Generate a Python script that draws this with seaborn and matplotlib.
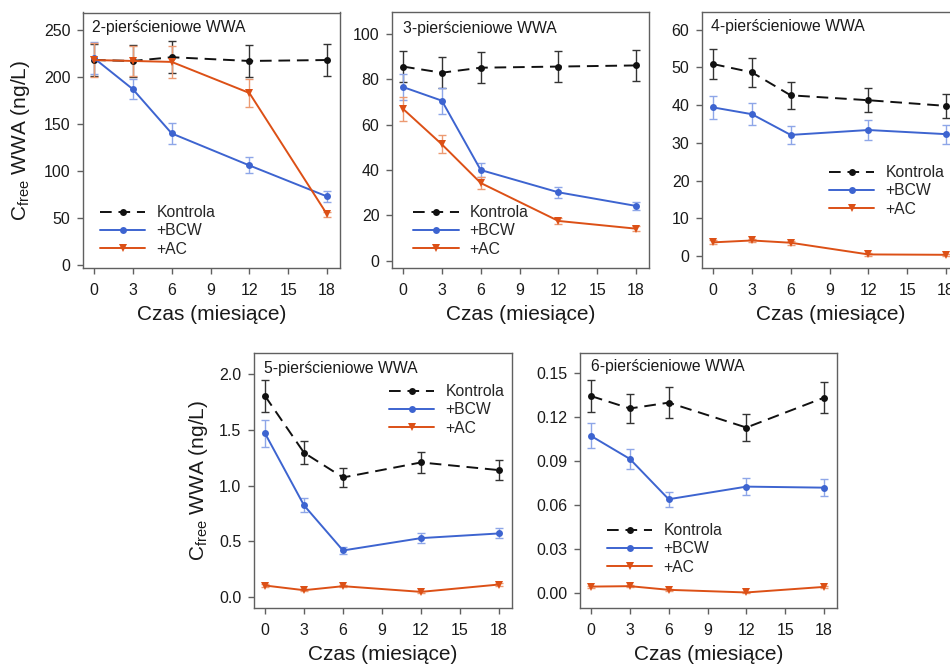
import numpy as np
import pandas as pd
import matplotlib
matplotlib.use("Agg")
import matplotlib.pyplot as plt
import seaborn as sns

# ---------------- data ----------------
months = [0, 3, 6, 12, 18]
series_names = ["Kontrola", "+BCW", "+AC"]
panel_titles = ["2-pierścieniowe WWA", "3-pierścieniowe WWA", "4-pierścieniowe WWA",
                "5-pierścieniowe WWA", "6-pierścieniowe WWA"]

ctrl_2 = [218, 217, 221, 217, 218]
ctrl_2_err = [17, 17, 17, 17, 17]
bcw_2 = [220, 187, 140, 106, 73]
bcw_2_err = [17, 10.5, 11, 8.5, 5.5]
ac_2 = [218, 217, 216, 183, 54]
ac_2_err = [18, 16, 17, 15, 3]

ctrl_3 = [85.5, 82.8, 85.0, 85.5, 86.0]
ctrl_3_err = [6.7, 6.7, 6.7, 6.7, 7.0]
bcw_3 = [76.5, 70.5, 40.0, 30.2, 24.2]
bcw_3_err = [5.7, 5.7, 3.0, 2.3, 1.8]
ac_3 = [66.9, 51.3, 34.3, 17.6, 14.2]
ac_3_err = [5.4, 4.0, 2.5, 1.2, 1.1]

ctrl_4 = [50.9, 48.7, 42.6, 41.3, 39.8]
ctrl_4_err = [4.1, 3.9, 3.5, 3.2, 3.1]
bcw_4 = [39.4, 37.6, 32.1, 33.4, 32.3]
bcw_4_err = [3.1, 2.9, 2.4, 2.7, 2.5]
ac_4 = [3.6, 4.1, 3.5, 0.4, 0.3]
ac_4_err = [0.5, 0.5, 0.5, 0.3, 0.3]

ctrl_5 = [1.805, 1.295, 1.073, 1.208, 1.139]
ctrl_5_err = [0.14, 0.105, 0.083, 0.096, 0.093]
bcw_5 = [1.469, 0.822, 0.417, 0.528, 0.570]
bcw_5_err = [0.123, 0.063, 0.033, 0.043, 0.045]
ac_5 = [0.102, 0.060, 0.096, 0.045, 0.111]
ac_5_err = [0.01, 0.01, 0.01, 0.01, 0.01]

ctrl_6 = [0.1345, 0.126, 0.130, 0.113, 0.1334]
ctrl_6_err = [0.0106, 0.010, 0.0105, 0.009, 0.0107]
bcw_6 = [0.1073, 0.0916, 0.0641, 0.0727, 0.0720]
bcw_6_err = [0.0085, 0.007, 0.005, 0.006, 0.006]
ac_6 = [0.0045, 0.0048, 0.0023, 0.0005, 0.0043]
ac_6_err = [0.0007, 0.0007, 0.0005, 0.0004, 0.0006]

yticks_list = [
    [0, 50, 100, 150, 200, 250],
    [0, 20, 40, 60, 80, 100],
    [0, 10, 20, 30, 40, 50, 60],
    [0.0, 0.5, 1.0, 1.5, 2.0],
    [0.00, 0.03, 0.06, 0.09, 0.12, 0.15],
]
ytick_fmt = ["{:.0f}", "{:.0f}", "{:.0f}", "{:.1f}", "{:.2f}"]
xticks = [0, 3, 6, 9, 12, 15, 18]

panels = [
    (ctrl_2, ctrl_2_err, bcw_2, bcw_2_err, ac_2, ac_2_err),
    (ctrl_3, ctrl_3_err, bcw_3, bcw_3_err, ac_3, ac_3_err),
    (ctrl_4, ctrl_4_err, bcw_4, bcw_4_err, ac_4, ac_4_err),
    (ctrl_5, ctrl_5_err, bcw_5, bcw_5_err, ac_5, ac_5_err),
    (ctrl_6, ctrl_6_err, bcw_6, bcw_6_err, ac_6, ac_6_err),
]

# ---------------- style ----------------
sns.set_theme(style="ticks")
plt.rcParams["font.family"] = ["Liberation Sans", "DejaVu Sans"]
plt.rcParams["mathtext.fontset"] = "custom"
plt.rcParams["mathtext.rm"] = "Liberation Sans"
plt.rcParams["mathtext.it"] = "Liberation Sans:italic"

W, H = 950, 668
fig = plt.figure(figsize=(W / 100, H / 100), dpi=100)

# axes boxes in pixels: (left, top, right, bottom)
boxes = [(83, 12.5, 340, 268), (392, 12, 649, 268), (702, 12, 959, 268),
         (254, 352.5, 512, 608), (580, 352.5, 837, 608)]
ylims = [(-3, 268.5), (-3.1, 109.5), (-3.2, 64.7), (-0.10, 2.196), (-0.0101, 0.1642)]
title_pos = [(0.035, 0.943), (0.042, 0.936), (0.035, 0.945), (0.040, 0.939), (0.042, 0.944)]
legend_pos = [(0.066, 0.145), (0.082, 0.145), (0.494, 0.301), (0.523, 0.775), (0.105, 0.231)]
ylabel_x = {0: -0.198, 3: -0.17}

c_black = "#111111"
c_blue = "#3d64d0"
c_orange = "#dc5016"
e_black = "#333333"
e_blue = "#8ea6e8"
e_orange = "#ec9a72"
spine_c = "#606060"

for i, (ctrl, ctrl_e, bcw, bcw_e, ac, ac_e) in enumerate(panels):
    l, t, r, b = boxes[i]
    ax = fig.add_axes([l / W, 1 - b / H, (r - l) / W, (b - t) / H])

    df = pd.DataFrame({
        "month": months * 3,
        "value": ctrl + bcw + ac,
        "series": [series_names[0]] * 5 + [series_names[1]] * 5 + [series_names[2]] * 5,
    })

    # error bars first (behind lines)
    ax.errorbar(months, ctrl, yerr=ctrl_e, fmt="none", ecolor=e_black, elinewidth=1.0,
                capsize=2.7, capthick=1.0, zorder=1)
    ax.errorbar(months, bcw, yerr=bcw_e, fmt="none", ecolor=e_blue, elinewidth=1.0,
                capsize=2.7, capthick=1.0, zorder=1)
    ax.errorbar(months, ac, yerr=ac_e, fmt="none", ecolor=e_orange, elinewidth=1.0,
                capsize=2.7, capthick=1.0, zorder=1)

    sns.lineplot(data=df[df.series == "Kontrola"], x="month", y="value", ax=ax,
                 color=c_black, lw=1.4, marker="o", markersize=5, markeredgewidth=0,
                 dashes=False, label="Kontrola", zorder=3)
    ax.lines[-1].set_dashes((6, 3.5))
    sns.lineplot(data=df[df.series == "+BCW"], x="month", y="value", ax=ax,
                 color=c_blue, lw=1.4, marker="o", markersize=5, markeredgewidth=0,
                 label="+BCW", zorder=3)
    sns.lineplot(data=df[df.series == "+AC"], x="month", y="value", ax=ax,
                 color=c_orange, lw=1.4, marker="v", markersize=5.5, markeredgewidth=0,
                 label="+AC", zorder=3)

    ax.set_xlim(-0.85, 19.0)
    ax.set_ylim(*ylims[i])
    ax.set_xticks(xticks)
    ax.set_xticklabels([str(v) for v in xticks])
    ax.set_yticks(yticks_list[i])
    ax.set_yticklabels([ytick_fmt[i].format(v) for v in yticks_list[i]])

    for s in ax.spines.values():
        s.set_color(spine_c)
        s.set_linewidth(1.0)
    ax.tick_params(axis="x", direction="out", length=4, width=1, color=spine_c,
                   labelsize=11.5, labelcolor="#1a1a1a", pad=7)
    ax.tick_params(axis="y", direction="out", length=4, width=1, color=spine_c,
                   labelsize=11.5, labelcolor="#1a1a1a", pad=5)

    ax.set_xlabel("Czas (miesiące)", fontsize=15, color="#1a1a1a")
    ax.xaxis.set_label_coords(0.5, -0.145)
    if i in ylabel_x:
        ax.set_ylabel(r"C$_{\mathrm{free}}$ WWA (ng/L)", fontsize=15, color="#1a1a1a")
        ax.yaxis.set_label_coords(ylabel_x[i], 0.5)
    else:
        ax.set_ylabel("")

    tx, ty = title_pos[i]
    ax.text(tx, ty, panel_titles[i], transform=ax.transAxes, fontsize=11.3,
            va="center", ha="left", color="#1a1a1a")

    lx, ly = legend_pos[i]
    ax.legend(loc="center left", bbox_to_anchor=(lx, ly), frameon=False,
              fontsize=11.3, handlelength=2.9, handletextpad=0.7,
              labelspacing=0.2, borderpad=0, borderaxespad=0)

fig.savefig("out.png", dpi=100)
